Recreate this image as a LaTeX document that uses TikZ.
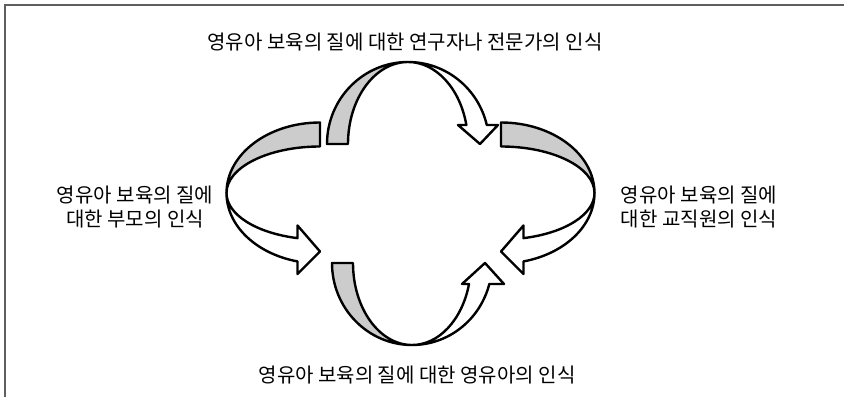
\documentclass[tikz,border=0pt]{standalone}
\usepackage{fontspec}
\newfontfamily\kor{Noto Sans CJK KR}
\usepackage{xcolor}
\usepackage{tikz}
\usetikzlibrary{arrows.meta,positioning,calc}

\definecolor{bandgray}{RGB}{204,204,204}
\definecolor{framegray}{RGB}{95,95,95}

% curved ribbon arrow: outer r, inner r, height, head length, inner barb, outer barb, tip
\newcommand{\ribbonarrow}[7]{%
  \pgfmathsetmacro{\endang}{asin(#4/#3)}
  \draw[band, fill=bandgray] (-#1,0)
    arc[start angle=180, end angle=90, x radius=#1, y radius=#3]
    arc[start angle=90, end angle=180, x radius=#2, y radius=#3] -- cycle;
  \draw[band, fill=white] (0,#3)
    arc[start angle=90, end angle=\endang, x radius=#1, y radius=#3]
    -- (#6,#4) -- (#7,0) -- (#5,#4) -- ({#2*cos(\endang)},#4)
    arc[start angle=\endang, end angle=90, x radius=#2, y radius=#3] -- cycle;
}

\begin{document}
\begin{tikzpicture}[
    x=1pt, y=1pt,
    band/.style={draw=black, line width=2.4pt, line join=round},
    frame/.style={draw=framegray, line width=1.4pt},
    label/.style={font=\kor\fontsize{20pt}{24pt}\selectfont, align=center,
                  inner sep=0pt},
  ]
  \useasboundingbox (0,0) rectangle (844,397);
  \draw[frame] (5,0) -- (5,392) -- (844,392);

  % four ribbon arrows
  \begin{scope}[shift={(408,253)}]
    \ribbonarrow{81}{60}{82}{19}{50}{90}{72}
  \end{scope}
  \begin{scope}[shift={(412,134)}, yscale=-1]
    \ribbonarrow{80}{59}{82}{21}{50}{92}{73}
  \end{scope}
  \begin{scope}[shift={(501,204)}, rotate=-90]
    \ribbonarrow{70.5}{46.5}{93.5}{22.5}{32.5}{81}{58.5}
  \end{scope}
  \begin{scope}[shift={(320,204)}, xscale=-1, rotate=-90]
    \ribbonarrow{70.5}{46.5}{93.5}{22.5}{32.5}{81}{58.5}
  \end{scope}

  % labels
  \node[label] (expert) at (405,355) {영유아 보육의 질에 대한 연구자나 전문가의 인식};
  \node[label] (child) at (417,22) {영유아 보육의 질에 대한 영유아의 인식};
  \node[label] (parent) at (135,190) {영유아 보육의 질에\\대한 부모의 인식};
  \node[label] (staff) at (699,190) {영유아 보육의 질에\\대한 교직원의 인식};

\end{tikzpicture}
\end{document}
